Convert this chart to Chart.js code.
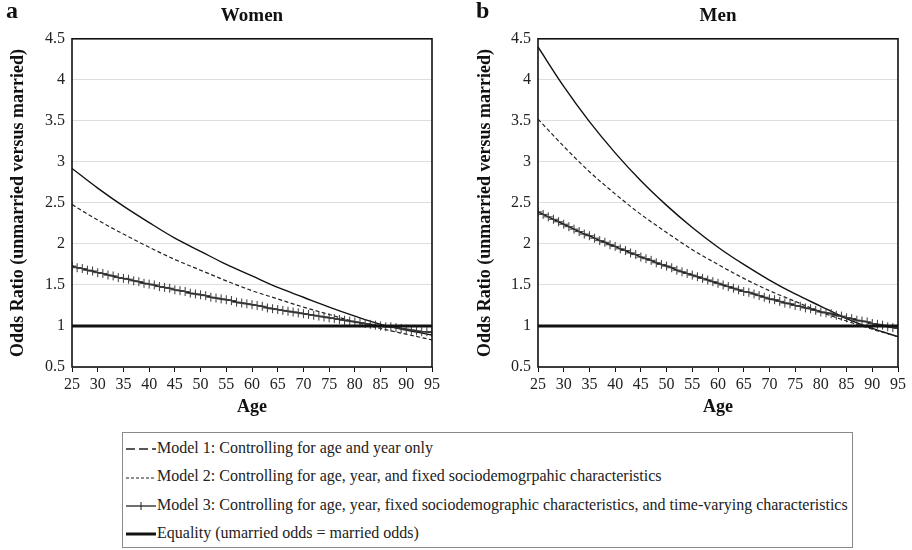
<!DOCTYPE html>
<html>
<head>
<meta charset="utf-8">
<script src="https://cdn.jsdelivr.net/npm/chart.js@4"></script>
<style>
  body { margin: 0; background: #fff; font-family: "Liberation Serif", "Times New Roman", "DejaVu Serif", serif; color: #222; }
  #wrap { position: relative; width: 912px; height: 550px; }
  .panel { position: absolute; top: 0; }
  .tag { position: absolute; top: -3px; font-weight: bold; font-size: 24px; color: #111; }
  #legend { position: absolute; left: 122px; top: 432px; width: 731px; height: 116px;
            border: 1px solid #8a8a8a; box-sizing: border-box; padding-top: 1px; }
  .row { height: 28.3px; line-height: 28.3px; font-size: 16px; white-space: nowrap; }
  .row svg { vertical-align: middle; margin-left: 3px; margin-right: 1px; }
</style>
</head>
<body>
<div id="wrap">
  <div class="panel" style="left:0"><canvas id="women-chart" width="456" height="425"></canvas></div>
  <div class="panel" style="left:456px"><canvas id="men-chart" width="456" height="425"></canvas></div>
  <div class="tag" style="left:6px">a</div>
  <div class="tag" style="left:476px">b</div>
  <div id="legend">
    <div class="row"><svg width="30" height="6"><line x1="0" y1="3" x2="30" y2="3" stroke="#222" stroke-width="1.3" stroke-dasharray="9,4"/></svg>Model 1: Controlling for age and year only</div>
    <div class="row"><svg width="30" height="6"><line x1="0" y1="3" x2="30" y2="3" stroke="#222" stroke-width="1.2" stroke-dasharray="3,2"/></svg>Model 2: Controlling for age, year, and fixed sociodemogrpahic characteristics</div>
    <div class="row"><svg width="30" height="10"><line x1="0" y1="5" x2="30" y2="5" stroke="#222" stroke-width="1.3"/><line x1="15" y1="1" x2="15" y2="9" stroke="#222" stroke-width="1"/></svg>Model 3: Controlling for age, year, fixed sociodemographic characteristics, and time-varying characteristics</div>
    <div class="row"><svg width="30" height="6"><line x1="0" y1="3" x2="30" y2="3" stroke="#111" stroke-width="3"/></svg>Equality (umarried odds = married odds)</div>
  </div>
</div>
<script>
// ages (every 5 years for the smooth curves, every year for the marked one)
const ages = [25, 30, 35, 40, 45, 50, 55, 60, 65, 70, 75, 80, 85, 90, 95];
const agesYearly = [25, 26, 27, 28, 29, 30, 31, 32, 33, 34, 35, 36, 37, 38, 39, 40, 41, 42, 43, 44,
  45, 46, 47, 48, 49, 50, 51, 52, 53, 54, 55, 56, 57, 58, 59, 60, 61, 62, 63, 64, 65, 66, 67, 68, 69,
  70, 71, 72, 73, 74, 75, 76, 77, 78, 79, 80, 81, 82, 83, 84, 85, 86, 87, 88, 89, 90, 91, 92, 93, 94, 95];
const yTicks = [0.5, 1, 1.5, 2, 2.5, 3, 3.5, 4, 4.5];

// women
const womenModel1 = [2.92, 2.68, 2.46, 2.26, 2.07, 1.91, 1.75, 1.61, 1.47, 1.35, 1.23, 1.12, 1.02, 0.95, 0.89];
const womenModel2 = [2.48, 2.29, 2.12, 1.96, 1.81, 1.68, 1.55, 1.43, 1.33, 1.23, 1.14, 1.05, 0.97, 0.90, 0.83];
const womenModel3 = [1.73, 1.71, 1.70, 1.68, 1.67, 1.65, 1.64, 1.62, 1.61, 1.59,
  1.58, 1.57, 1.55, 1.54, 1.52, 1.51, 1.50, 1.48, 1.47, 1.46,
  1.44, 1.43, 1.42, 1.40, 1.39, 1.38, 1.37, 1.35, 1.34, 1.33,
  1.32, 1.31, 1.29, 1.28, 1.27, 1.26, 1.25, 1.24, 1.22, 1.21,
  1.20, 1.19, 1.18, 1.17, 1.16, 1.15, 1.14, 1.13, 1.12, 1.11,
  1.10, 1.09, 1.08, 1.07, 1.06, 1.05, 1.04, 1.03, 1.02, 1.01,
  1.00, 0.99, 0.99, 0.98, 0.97, 0.96, 0.95, 0.94, 0.93, 0.93,
  0.92];

// men
const menModel1 = [4.40, 3.92, 3.49, 3.11, 2.77, 2.47, 2.20, 1.96, 1.75, 1.56, 1.39, 1.24, 1.09, 0.97, 0.87];
const menModel2 = [3.52, 3.19, 2.88, 2.61, 2.36, 2.14, 1.93, 1.75, 1.58, 1.43, 1.30, 1.17, 1.06, 0.96, 0.87];
const menModel3 = [2.39, 2.36, 2.33, 2.30, 2.27, 2.24, 2.21, 2.18, 2.15, 2.12,
  2.10, 2.07, 2.04, 2.02, 1.99, 1.97, 1.94, 1.92, 1.89, 1.87,
  1.84, 1.82, 1.80, 1.77, 1.75, 1.73, 1.71, 1.68, 1.66, 1.64,
  1.62, 1.60, 1.58, 1.56, 1.54, 1.52, 1.50, 1.48, 1.46, 1.44,
  1.42, 1.41, 1.39, 1.37, 1.35, 1.33, 1.32, 1.30, 1.28, 1.27,
  1.25, 1.24, 1.22, 1.21, 1.19, 1.17, 1.16, 1.15, 1.13, 1.12,
  1.10, 1.09, 1.07, 1.06, 1.05, 1.03, 1.02, 1.01, 0.99, 0.98,
  0.97];

const equality = [1, 1, 1, 1, 1, 1, 1, 1, 1, 1, 1, 1, 1, 1, 1];

const serif = '"Liberation Serif", "Times New Roman", "DejaVu Serif", serif';

function pts(xs, ys) {
    return xs.map((x, i) => ({x: x, y: ys[i]}));
}

// black frame around the plot area
const frame = {
    id: 'frame',
    afterDatasetsDraw(chart) {
        const a = chart.chartArea;
        const ctx = chart.ctx;
        ctx.save();
        ctx.strokeStyle = '#111';
        ctx.lineWidth = 1.6;
        ctx.strokeRect(a.left, a.top, a.right - a.left, a.bottom - a.top);
        ctx.restore();
    }
};

function makeChart(id, title, m1, m2, m3, padLeft, padRight, yWidth) {
    const config = {
        type: 'line',
        data: {
            datasets: [
                {
                    label: 'Equality', data: pts(ages, equality), borderColor: '#111',
                    borderWidth: 3.2, pointRadius: 0, order: 0
                },
                {
                    label: 'Model 1', data: pts(ages, m1), borderColor: '#111',
                    borderWidth: 1.4, pointRadius: 0, cubicInterpolationMode: 'monotone', order: 3
                },
                {
                    label: 'Model 2', data: pts(ages, m2), borderColor: '#222',
                    borderWidth: 1.2, borderDash: [4, 2.5], pointRadius: 0, cubicInterpolationMode: 'monotone', order: 2
                },
                {
                    label: 'Model 3', data: pts(agesYearly, m3), borderColor: '#111',
                    borderWidth: 1.5, pointStyle: 'cross', pointRadius: 4.5, pointBorderWidth: 1,
                    pointBorderColor: '#3a3a3a', order: 1
                }
            ]
        },
        options: {
            animation: false,
            responsive: false,
            events: [],
            layout: { padding: { left: padLeft, right: padRight, top: 0, bottom: 0 } },
            plugins: {
                legend: { display: false },
                tooltip: { enabled: false },
                title: {
                    display: true,
                    text: title,
                    fullSize: false,
                    color: '#111',
                    font: { family: serif, size: 19, weight: 'bold' },
                    padding: { top: 5, bottom: 11 }
                }
            },
            scales: {
                x: {
                    type: 'linear',
                    min: 25, max: 95,
                    ticks: { stepSize: 5, color: '#222', padding: 3, font: { family: serif, size: 16 } },
                    grid: { drawOnChartArea: false, drawTicks: true, tickLength: 5, color: '#111' },
                    border: { display: false },
                    title: {
                        display: true, text: 'Age', color: '#111',
                        font: { family: serif, size: 18, weight: 'bold' },
                        padding: { top: 0, bottom: 7 }
                    },
                    afterFit: function(scale) { scale.height = 58; }
                },
                y: {
                    min: 0.5, max: 4.5,
                    afterBuildTicks: function(scale) { scale.ticks = yTicks.map(v => ({value: v})); },
                    ticks: {
                        color: '#222', padding: 7, font: { family: serif, size: 16 },
                        callback: function(value) { return String(value); }
                    },
                    grid: { color: '#dedede', lineWidth: 1, drawTicks: false },
                    border: { display: false },
                    title: {
                        display: true, text: 'Odds Ratio (unmarried versus married)', color: '#111',
                        font: { family: serif, size: 18, weight: 'bold' },
                        padding: { top: 8, bottom: 0 }
                    },
                    afterFit: function(scale) { scale.width = yWidth; }
                }
            }
        },
        plugins: [frame]
    };
    const context = document.getElementById(id).getContext('2d');
    return new Chart(context, config);
}

const womenChart = makeChart('women-chart', 'Women', womenModel1, womenModel2, womenModel3, 0, 24, 72);
const menChart = makeChart('men-chart', 'Men', menModel1, menModel2, menModel3, 11, 14, 71);
</script>
</body>
</html>
